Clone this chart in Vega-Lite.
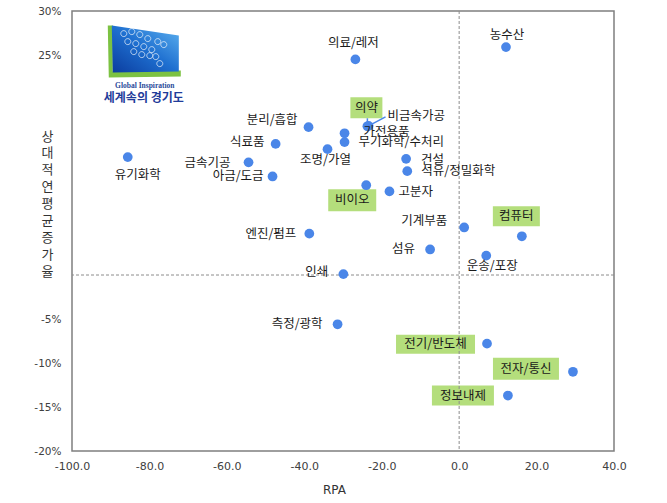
{
  "$schema": "https://vega.github.io/schema/vega-lite/v6.json",
  "width": 542,
  "height": 440,
  "autosize": {"type": "none"},
  "padding": {"left": 72, "top": 11, "right": 53, "bottom": 52},
  "background": "white",
  "config": {
    "view": {"stroke": "#7f7f7f", "strokeWidth": 1.5},
    "text": {"font": "Noto Sans CJK KR", "fontSize": 12.5, "baseline": "middle", "color": "#1a1a1a"}
  },
  "datasets": {
    "points": [
      {"name": "농수산", "x": 12.1, "y": 25.9},
      {"name": "의료/레저", "x": -26.8, "y": 24.5},
      {"name": "분리/흡합", "x": -38.9, "y": 16.8},
      {"name": "의약", "x": -23.7, "y": 16.9},
      {"name": "비금속가공", "x": -23.4, "y": 16.95},
      {"name": "가전용품", "x": -29.6, "y": 16.1},
      {"name": "무기화학/수처리", "x": -29.6, "y": 15.1},
      {"name": "식료품", "x": -47.4, "y": 14.9},
      {"name": "조명/가열", "x": -34.0, "y": 14.3},
      {"name": "유기화학", "x": -85.6, "y": 13.4},
      {"name": "금속기공", "x": -54.4, "y": 12.8},
      {"name": "아금/도금", "x": -48.2, "y": 11.2},
      {"name": "건설", "x": -13.7, "y": 13.2},
      {"name": "석유/정밀화학", "x": -13.4, "y": 11.8},
      {"name": "비이오", "x": -24.0, "y": 10.2},
      {"name": "고분자", "x": -18.0, "y": 9.5},
      {"name": "기계부품", "x": 1.3, "y": 5.4},
      {"name": "컴퓨터", "x": 16.2, "y": 4.4},
      {"name": "엔진/펌프", "x": -38.7, "y": 4.7},
      {"name": "섬유", "x": -7.5, "y": 2.9},
      {"name": "운송/포장", "x": 7.0, "y": 2.2},
      {"name": "인쇄", "x": -29.9, "y": 0.1},
      {"name": "측정/광학", "x": -31.4, "y": -5.6},
      {"name": "전기/반도체", "x": 7.2, "y": -7.8},
      {"name": "전자/통신", "x": 29.4, "y": -11.0},
      {"name": "정보내제", "x": 12.6, "y": -13.7}
    ],
    "logo": [{"x": -81.2, "y": 25.5}]
  },
  "layer": [
    {
      "data": {"name": "points"},
      "transform": [{"filter": {"field": "name", "oneOf": ["의약", "비이오", "컴퓨터", "전기/반도체", "전자/통신", "정보내제"]}}],
      "mark": {"type": "point", "filled": true, "size": 4, "color": "#B4DE7C", "opacity": 1},
      "encoding": {
        "x": {"field": "x", "type": "quantitative", "scale": {"domain": [-100, 40], "nice": false, "zero": false},
          "axis": {"values": [-100, -80, -60, -40, -20, 0, 20, 40], "labelExpr": "(datum.value < 0 ? '-' : '') + format(abs(datum.value), '.1f')", "ticks": false, "domain": false, "grid": false, "labelPadding": 9, "labelFlush": false, "labelFont": "DejaVu Sans", "labelFontSize": 11, "labelColor": "#404040", "title": "RPA", "titleFont": "DejaVu Sans", "titleFontSize": 12, "titleFontWeight": "normal", "titleColor": "#333333", "titlePadding": 13, "titleX": 262}},
        "y": {"field": "y", "type": "quantitative", "scale": {"domain": [-20, 30], "nice": false, "zero": false},
          "axis": {"values": [-20, -15, -10, -5, 25, 30], "labelExpr": "datum.value + '%'", "ticks": false, "domain": false, "grid": false, "labelPadding": 11, "labelFont": "DejaVu Sans", "labelFontSize": 10.5, "labelColor": "#404040", "title": ["상", "대", "적", "연", "평", "균", "증", "가", "율"], "titleAngle": 0, "titleAlign": "center", "titleBaseline": "top", "titleX": -25, "titleY": 119, "titleLineHeight": 16.9, "titleFont": "Noto Sans CJK KR", "titleFontSize": 13, "titleFontWeight": "normal", "titleColor": "#333333"}},
        "shape": {"field": "name", "type": "nominal", "legend": null,
          "scale": {"domain": ["의약", "비이오", "컴퓨터", "전기/반도체", "전자/통신", "정보내제"],
            "range": ["M-17,-29L15,-29L15,-8L-17,-8Z", "M-38,4L10,4L10,26L-38,26Z", "M-29,-30L18,-30L18,-10L-29,-10Z", "M-91,-9L-12,-9L-12,10L-91,10Z", "M-80,-14L-14,-14L-14,8L-80,8Z", "M-76,-10L-14,-10L-14,10L-76,10Z"]}}
      }
    },
    {
      "data": {"values": [{}]},
      "mark": {"type": "rule", "color": "#8c8c8c", "strokeWidth": 1, "strokeDash": [3, 2]},
      "encoding": {"x": {"datum": 0, "type": "quantitative"}}
    },
    {
      "data": {"values": [{}]},
      "mark": {"type": "rule", "color": "#8c8c8c", "strokeWidth": 1, "strokeDash": [3, 2]},
      "encoding": {"y": {"datum": 0, "type": "quantitative"}}
    },
    {
      "data": {"name": "points"},
      "mark": {"type": "point", "filled": true, "size": 95, "color": "#4A86E8", "opacity": 1},
      "encoding": {
        "x": {"field": "x", "type": "quantitative"},
        "y": {"field": "y", "type": "quantitative"}
      }
    },
    {
      "data": {"name": "points"},
      "transform": [{"filter": "datum.name === '의약'"}],
      "mark": {"type": "rule", "color": "#4A86E8", "strokeWidth": 1.5, "y2Offset": -8},
      "encoding": {
        "x": {"field": "x", "type": "quantitative"},
        "y": {"field": "y", "type": "quantitative"},
        "y2": {"field": "y"}
      }
    },
    {
      "data": {"name": "points"},
      "transform": [{"filter": "datum.name === '비금속가공'"}],
      "mark": {"type": "rule", "color": "#4A86E8", "strokeWidth": 1.5, "x2Offset": 17, "y2Offset": -9},
      "encoding": {
        "x": {"field": "x", "type": "quantitative"},
        "y": {"field": "y", "type": "quantitative"},
        "x2": {"field": "x"},
        "y2": {"field": "y"}
      }
    },
    {
      "data": {"name": "points"},
      "encoding": {
        "x": {"field": "x", "type": "quantitative"},
        "y": {"field": "y", "type": "quantitative"},
        "text": {"field": "name"}
      },
      "layer": [
        {"transform": [{"filter": "datum.name === '농수산'"}], "mark": {"type": "text", "align": "center", "dx": 1, "dy": -12}},
        {"transform": [{"filter": "datum.name === '의료/레저'"}], "mark": {"type": "text", "align": "center", "dx": -2, "dy": -16}},
        {"transform": [{"filter": "datum.name === '분리/흡합'"}], "mark": {"type": "text", "align": "right", "dx": -11, "dy": -7}},
        {"transform": [{"filter": "datum.name === '식료품'"}], "mark": {"type": "text", "align": "right", "dx": -11, "dy": -2}},
        {"transform": [{"filter": "datum.name === '금속기공'"}], "mark": {"type": "text", "align": "right", "dx": -18, "dy": 1}},
        {"transform": [{"filter": "datum.name === '아금/도금'"}], "mark": {"type": "text", "align": "right", "dx": -9, "dy": 0}},
        {"transform": [{"filter": "datum.name === '유기화학'"}], "mark": {"type": "text", "align": "center", "dx": 10, "dy": 18}},
        {"transform": [{"filter": "datum.name === '조명/가열'"}], "mark": {"type": "text", "align": "center", "dx": -2, "dy": 11}},
        {"transform": [{"filter": "datum.name === '가전용품'"}], "mark": {"type": "text", "align": "left", "dx": 19, "dy": -1}},
        {"transform": [{"filter": "datum.name === '무기화학/수처리'"}], "mark": {"type": "text", "align": "left", "dx": 14, "dy": 0}},
        {"transform": [{"filter": "datum.name === '비금속가공'"}], "mark": {"type": "text", "align": "left", "dx": 19, "dy": -10}},
        {"transform": [{"filter": "datum.name === '건설'"}], "mark": {"type": "text", "align": "left", "dx": 15, "dy": 1}},
        {"transform": [{"filter": "datum.name === '석유/정밀화학'"}], "mark": {"type": "text", "align": "left", "dx": 14, "dy": 0}},
        {"transform": [{"filter": "datum.name === '고분자'"}], "mark": {"type": "text", "align": "left", "dx": 9, "dy": 1}},
        {"transform": [{"filter": "datum.name === '기계부품'"}], "mark": {"type": "text", "align": "right", "dx": -17, "dy": -6}},
        {"transform": [{"filter": "datum.name === '엔진/펌프'"}], "mark": {"type": "text", "align": "right", "dx": -13, "dy": 0}},
        {"transform": [{"filter": "datum.name === '섬유'"}], "mark": {"type": "text", "align": "right", "dx": -15, "dy": 0}},
        {"transform": [{"filter": "datum.name === '운송/포장'"}], "mark": {"type": "text", "align": "center", "dx": 6, "dy": 10}},
        {"transform": [{"filter": "datum.name === '인쇄'"}], "mark": {"type": "text", "align": "right", "dx": -15, "dy": -2}},
        {"transform": [{"filter": "datum.name === '측정/광학'"}], "mark": {"type": "text", "align": "right", "dx": -15, "dy": 0}},
        {"transform": [{"filter": "datum.name === '의약'"}], "mark": {"type": "text", "align": "center", "dx": -1, "dy": -18.5}},
        {"transform": [{"filter": "datum.name === '비이오'"}], "mark": {"type": "text", "align": "center", "dx": -14, "dy": 15}},
        {"transform": [{"filter": "datum.name === '컴퓨터'"}], "mark": {"type": "text", "align": "center", "dx": -5.5, "dy": -20}},
        {"transform": [{"filter": "datum.name === '전기/반도체'"}], "mark": {"type": "text", "align": "center", "dx": -51.5, "dy": 0.5}},
        {"transform": [{"filter": "datum.name === '전자/통신'"}], "mark": {"type": "text", "align": "center", "dx": -47, "dy": -3}},
        {"transform": [{"filter": "datum.name === '정보내제'"}], "mark": {"type": "text", "align": "center", "dx": -45, "dy": 0}}
      ]
    },
    {
      "data": {"name": "logo"},
      "encoding": {
        "x": {"field": "x", "type": "quantitative"},
        "y": {"field": "y", "type": "quantitative"}
      },
      "layer": [
        {"mark": {"type": "point", "filled": true, "size": 4, "opacity": 1, "color": "#7CC242", "shape": "M-37,-25L-32,-25L-32,21L36,20L36,26L-36,27Z"}},
        {"mark": {"type": "point", "filled": true, "size": 4, "opacity": 1, "shape": "M-33,-25L34,-15L34,21L-32,22Z",
          "color": {"gradient": "linear", "x1": 1, "y1": 0, "x2": 0, "y2": 1, "stops": [{"offset": 0, "color": "#5FB3F0"}, {"offset": 0.5, "color": "#1E6FD0"}, {"offset": 1, "color": "#0B3C9E"}]}}},
        {"mark": {"type": "point", "filled": false, "size": 4, "opacity": 0.85, "strokeWidth": 0.8, "color": "white",
          "shape": "M-24,-17a3,3 0 1,0 6,0a3,3 0 1,0 -6,0M-16,-19a3,3 0 1,0 6,0a3,3 0 1,0 -6,0M-8,-16a3,3 0 1,0 6,0a3,3 0 1,0 -6,0M0,-12a3,3 0 1,0 6,0a3,3 0 1,0 -6,0M-20,-9a3,3 0 1,0 6,0a3,3 0 1,0 -6,0M-12,-7a3,3 0 1,0 6,0a3,3 0 1,0 -6,0M-4,-4a3,3 0 1,0 6,0a3,3 0 1,0 -6,0M4,-1a3,3 0 1,0 6,0a3,3 0 1,0 -6,0M8,6a3,3 0 1,0 6,0a3,3 0 1,0 -6,0M12,13a3,3 0 1,0 6,0a3,3 0 1,0 -6,0M2,5a3,3 0 1,0 6,0a3,3 0 1,0 -6,0M16,-6a3,3 0 1,0 6,0a3,3 0 1,0 -6,0M-6,4a3,3 0 1,0 6,0a3,3 0 1,0 -6,0M-14,1a3,3 0 1,0 6,0a3,3 0 1,0 -6,0M10,-9a3,3 0 1,0 6,0a3,3 0 1,0 -6,0"}},
        {"mark": {"type": "text", "align": "center", "dx": 0, "dy": 35, "font": "Liberation Serif", "fontSize": 7.5, "fontWeight": "bold", "color": "#2A4B9B"}, "encoding": {"text": {"value": "Global Inspiration"}}},
        {"mark": {"type": "text", "align": "center", "dx": -1, "dy": 47.5, "font": "Noto Sans CJK KR", "fontSize": 12, "fontWeight": "bold", "color": "#1F3C9A"}, "encoding": {"text": {"value": "세계속의 경기도"}}}
      ]
    }
  ]
}
